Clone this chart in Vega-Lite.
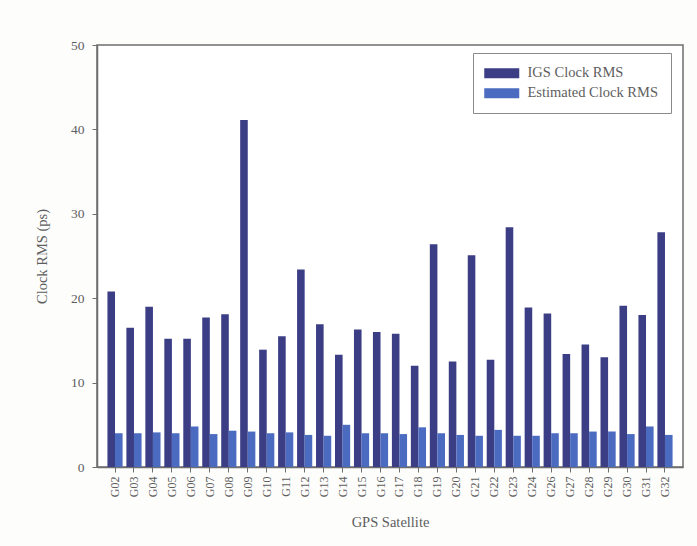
{
  "$schema": "https://vega.github.io/schema/vega-lite/v6.json",
  "autosize": {"type": "none"},
  "width": 586,
  "height": 422,
  "padding": {"left": 97, "top": 45, "right": 14, "bottom": 79},
  "background": "#fdfdfc",
  "config": {
    "font": "Liberation Serif",
    "view": {"stroke": "#6e6e6e", "strokeWidth": 1.5, "fill": "#ffffff"},
    "axis": {
      "labelFont": "Liberation Serif",
      "titleFont": "Liberation Serif",
      "labelColor": "#5e5e5e",
      "titleColor": "#5e5e5e",
      "titleFontWeight": "normal",
      "domainColor": "#6e6e6e",
      "domainWidth": 1.5,
      "tickColor": "#6e6e6e",
      "tickWidth": 1,
      "grid": false
    }
  },
  "data": {
    "values": [
      {"sat": "G02", "series": "IGS Clock RMS", "rms": 20.8}, {"sat": "G02", "series": "Estimated Clock RMS", "rms": 4.0},
      {"sat": "G03", "series": "IGS Clock RMS", "rms": 16.5}, {"sat": "G03", "series": "Estimated Clock RMS", "rms": 4.0},
      {"sat": "G04", "series": "IGS Clock RMS", "rms": 19.0}, {"sat": "G04", "series": "Estimated Clock RMS", "rms": 4.1},
      {"sat": "G05", "series": "IGS Clock RMS", "rms": 15.2}, {"sat": "G05", "series": "Estimated Clock RMS", "rms": 4.0},
      {"sat": "G06", "series": "IGS Clock RMS", "rms": 15.2}, {"sat": "G06", "series": "Estimated Clock RMS", "rms": 4.8},
      {"sat": "G07", "series": "IGS Clock RMS", "rms": 17.7}, {"sat": "G07", "series": "Estimated Clock RMS", "rms": 3.9},
      {"sat": "G08", "series": "IGS Clock RMS", "rms": 18.1}, {"sat": "G08", "series": "Estimated Clock RMS", "rms": 4.3},
      {"sat": "G09", "series": "IGS Clock RMS", "rms": 41.1}, {"sat": "G09", "series": "Estimated Clock RMS", "rms": 4.2},
      {"sat": "G10", "series": "IGS Clock RMS", "rms": 13.9}, {"sat": "G10", "series": "Estimated Clock RMS", "rms": 4.0},
      {"sat": "G11", "series": "IGS Clock RMS", "rms": 15.5}, {"sat": "G11", "series": "Estimated Clock RMS", "rms": 4.1},
      {"sat": "G12", "series": "IGS Clock RMS", "rms": 23.4}, {"sat": "G12", "series": "Estimated Clock RMS", "rms": 3.8},
      {"sat": "G13", "series": "IGS Clock RMS", "rms": 16.9}, {"sat": "G13", "series": "Estimated Clock RMS", "rms": 3.7},
      {"sat": "G14", "series": "IGS Clock RMS", "rms": 13.3}, {"sat": "G14", "series": "Estimated Clock RMS", "rms": 5.0},
      {"sat": "G15", "series": "IGS Clock RMS", "rms": 16.3}, {"sat": "G15", "series": "Estimated Clock RMS", "rms": 4.0},
      {"sat": "G16", "series": "IGS Clock RMS", "rms": 16.0}, {"sat": "G16", "series": "Estimated Clock RMS", "rms": 4.0},
      {"sat": "G17", "series": "IGS Clock RMS", "rms": 15.8}, {"sat": "G17", "series": "Estimated Clock RMS", "rms": 3.9},
      {"sat": "G18", "series": "IGS Clock RMS", "rms": 12.0}, {"sat": "G18", "series": "Estimated Clock RMS", "rms": 4.7},
      {"sat": "G19", "series": "IGS Clock RMS", "rms": 26.4}, {"sat": "G19", "series": "Estimated Clock RMS", "rms": 4.0},
      {"sat": "G20", "series": "IGS Clock RMS", "rms": 12.5}, {"sat": "G20", "series": "Estimated Clock RMS", "rms": 3.8},
      {"sat": "G21", "series": "IGS Clock RMS", "rms": 25.1}, {"sat": "G21", "series": "Estimated Clock RMS", "rms": 3.7},
      {"sat": "G22", "series": "IGS Clock RMS", "rms": 12.7}, {"sat": "G22", "series": "Estimated Clock RMS", "rms": 4.4},
      {"sat": "G23", "series": "IGS Clock RMS", "rms": 28.4}, {"sat": "G23", "series": "Estimated Clock RMS", "rms": 3.7},
      {"sat": "G24", "series": "IGS Clock RMS", "rms": 18.9}, {"sat": "G24", "series": "Estimated Clock RMS", "rms": 3.7},
      {"sat": "G26", "series": "IGS Clock RMS", "rms": 18.2}, {"sat": "G26", "series": "Estimated Clock RMS", "rms": 4.0},
      {"sat": "G27", "series": "IGS Clock RMS", "rms": 13.4}, {"sat": "G27", "series": "Estimated Clock RMS", "rms": 4.0},
      {"sat": "G28", "series": "IGS Clock RMS", "rms": 14.5}, {"sat": "G28", "series": "Estimated Clock RMS", "rms": 4.2},
      {"sat": "G29", "series": "IGS Clock RMS", "rms": 13.0}, {"sat": "G29", "series": "Estimated Clock RMS", "rms": 4.2},
      {"sat": "G30", "series": "IGS Clock RMS", "rms": 19.1}, {"sat": "G30", "series": "Estimated Clock RMS", "rms": 3.9},
      {"sat": "G31", "series": "IGS Clock RMS", "rms": 18.0}, {"sat": "G31", "series": "Estimated Clock RMS", "rms": 4.8},
      {"sat": "G32", "series": "IGS Clock RMS", "rms": 27.8}, {"sat": "G32", "series": "Estimated Clock RMS", "rms": 3.8}
    ]
  },
  "mark": {"type": "bar"},
  "encoding": {
    "x": {
      "field": "sat",
      "type": "nominal",
      "sort": null,
      "scale": {"paddingInner": 0.2, "paddingOuter": 0.55},
      "axis": {
        "title": "GPS Satellite",
        "titleFontSize": 14.5,
        "titlePadding": 19,
        "labelAngle": -90,
        "labelFontSize": 12,
        "labelPadding": 4,
        "tickSize": 5
      }
    },
    "xOffset": {
      "field": "series",
      "type": "nominal",
      "sort": ["IGS Clock RMS", "Estimated Clock RMS"],
      "scale": {"paddingInner": 0, "paddingOuter": 0}
    },
    "y": {
      "field": "rms",
      "type": "quantitative",
      "scale": {"domain": [0, 50], "nice": false},
      "axis": {
        "title": "Clock RMS (ps)",
        "titleFontSize": 14.5,
        "titlePadding": 21,
        "values": [0, 10, 20, 30, 40, 50],
        "labelFontSize": 13.5,
        "labelPadding": 8,
        "tickSize": 5
      }
    },
    "color": {
      "field": "series",
      "type": "nominal",
      "sort": ["IGS Clock RMS", "Estimated Clock RMS"],
      "scale": {
        "domain": ["IGS Clock RMS", "Estimated Clock RMS"],
        "range": ["#3b3e85", "#4a6bc0"]
      },
      "legend": {
        "title": null,
        "orient": "none",
        "legendX": 376,
        "legendY": 8,
        "direction": "vertical",
        "fillColor": "#ffffff",
        "strokeColor": "#8a8a8a",
        "padding": 13,
        "cornerRadius": 0,
        "symbolType": "M-2.5,-0.7L2.5,-0.7L2.5,0.7L-2.5,0.7Z",
        "symbolSize": 196,
        "symbolOffset": 8.5,
        "symbolStrokeWidth": 0,
        "symbolOpacity": 1,
        "labelFont": "Liberation Serif",
        "labelFontSize": 14.5,
        "labelColor": "#5e5e5e",
        "labelOffset": 18.5,
        "rowPadding": 5
      }
    }
  }
}
